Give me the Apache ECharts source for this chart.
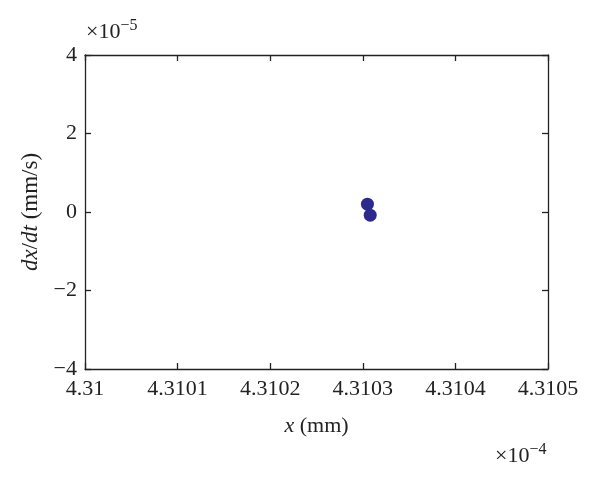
<!DOCTYPE html>
<html><head><meta charset="utf-8">
<script src="https://cdn.jsdelivr.net/npm/echarts@6/dist/echarts.min.js"></script>
<style>html,body{margin:0;padding:0;background:#fff}#c{width:600px;height:483px}</style>
</head><body><div id="c"></div>
<script>
// x values in units of 1e-4 mm, y values in units of 1e-5 mm/s
const xValues = [4.310305, 4.310308];
const yValues = [0.2, -0.08];
const xTicks = [4.31, 4.3101, 4.3102, 4.3103, 4.3104, 4.3105];
const yTicks = [-4, -2, 0, 2, 4];

const FONT = '"Liberation Serif","DejaVu Serif",serif';
const FS = 22;
const points = xValues.map((x, i) => [x, yValues[i]]);
const chart = echarts.init(document.getElementById('c'));
const axisLine = {show: true, onZero: false, lineStyle: {color: '#222', width: 1.3}};
const tick = {show: true, inside: true, length: 6, lineStyle: {color: '#222', width: 1.3}};
chart.setOption({
  animation: false,
  backgroundColor: '#fff',
  grid: {left: 85, right: 52, top: 55, bottom: 114},
  xAxis: [{
    type: 'value', min: xTicks[0], max: xTicks[xTicks.length - 1], interval: 0.0001,
    axisLine, axisTick: tick, splitLine: {show: false},
    axisLabel: {color: '#222', fontFamily: FONT, fontSize: FS, margin: 9,
      formatter: v => String(parseFloat(v.toFixed(4)))},
    name: '{i|x} (mm)', nameLocation: 'middle', nameGap: 46,
    nameTextStyle: {color: '#222', fontFamily: FONT, fontSize: FS,
      rich: {i: {fontStyle: 'italic', fontFamily: FONT, fontSize: FS, color: '#222'}}}
  }, {
    type: 'value', position: 'top', min: xTicks[0], max: xTicks[xTicks.length - 1], interval: 0.0001,
    axisLine, axisTick: tick, axisLabel: {show: false}, splitLine: {show: false}
  }],
  yAxis: [{
    type: 'value', min: yTicks[0], max: yTicks[yTicks.length - 1], interval: 2,
    axisLine, axisTick: tick, splitLine: {show: false},
    axisLabel: {color: '#222', fontFamily: FONT, fontSize: FS, margin: 8,
      formatter: v => (v < 0 ? '\u2212' + Math.abs(v) : String(v))},
    name: '{i|dx}/{i|dt} (mm/s)', nameLocation: 'middle', nameGap: 34, nameRotate: 90,
    nameTextStyle: {color: '#222', fontFamily: FONT, fontSize: 23,
      rich: {i: {fontStyle: 'italic', fontFamily: FONT, fontSize: 23, color: '#222'}}}
  }, {
    type: 'value', position: 'right', min: yTicks[0], max: yTicks[yTicks.length - 1], interval: 2,
    axisLine, axisTick: tick, axisLabel: {show: false}, splitLine: {show: false}
  }],
  graphic: [
    {type: 'text', left: 86, top: 18, style: {
      text: '\u00d710{s|\u22125}', fontFamily: FONT, fontSize: FS, fill: '#222',
      rich: {s: {fontSize: 16, fontFamily: FONT, verticalAlign: 'top', padding: [0, 0, 12, 0], fill: '#222'}}}},
    {type: 'text', left: 495, top: 442, style: {
      text: '\u00d710{s|\u22124}', fontFamily: FONT, fontSize: FS, fill: '#222',
      rich: {s: {fontSize: 16, fontFamily: FONT, verticalAlign: 'top', padding: [0, 0, 12, 0], fill: '#222'}}}}
  ],
  series: [{
    type: 'scatter', data: points, symbolSize: 13,
    itemStyle: {color: '#2c2a8c', opacity: 1}
  }]
});
</script></body></html>
